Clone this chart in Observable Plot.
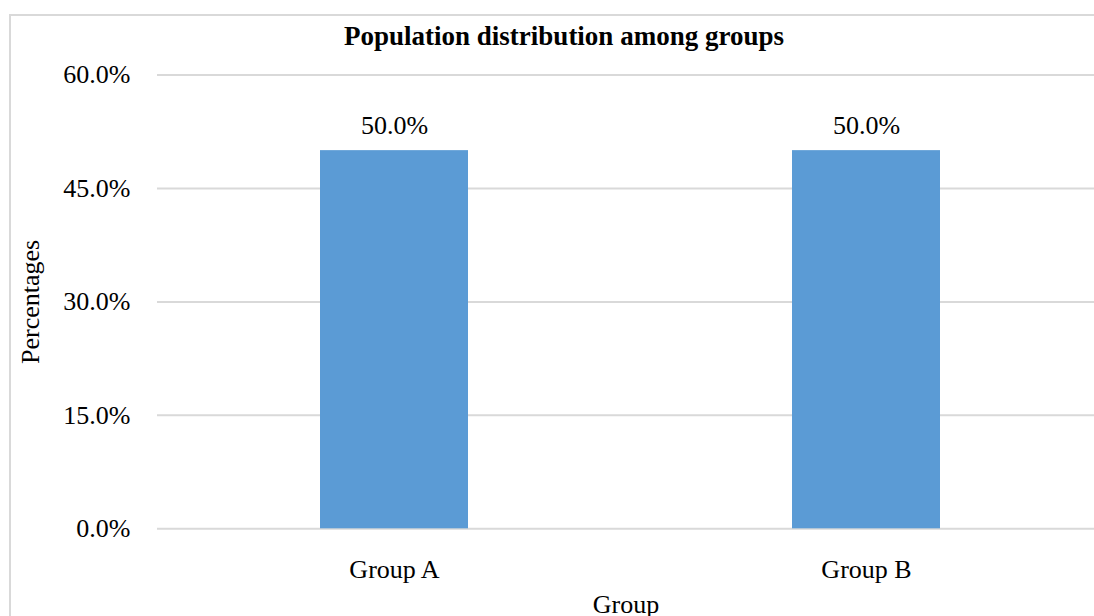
<!DOCTYPE html>
<html>
<head>
<meta charset="utf-8">
<script src="https://cdn.jsdelivr.net/npm/d3@7"></script>
<script src="https://cdn.jsdelivr.net/npm/@observablehq/plot@0.6"></script>
<style>
  html, body { margin: 0; padding: 0; background: #fff; }
  #wrap { position: relative; width: 1094px; height: 616px; overflow: hidden; background: #fff; }
  #frame { position: absolute; left: 9px; top: 14px; width: 1300px; height: 800px; border: 2px solid #d9d9d9; box-sizing: border-box; }
  #title { position: absolute; left: 0; top: 23px; width: 1128px; text-align: center; font-family: "Liberation Serif", "Times New Roman", serif; font-weight: bold; font-size: 27px; line-height: 1; color: #000; z-index: 2; }
  #chart { position: absolute; left: 0; top: 0; z-index: 1; }
</style>
</head>
<body>
<div id="wrap">
  <div id="frame"></div>
  <div id="chart"></div>
  <div id="title">Population distribution among groups</div>
</div>
<script>
const groups = ["Group A", "Group B"];
const values = [50.0, 50.0];
const yTicks = [0, 15, 30, 45, 60];
const yLabel = "Percentages";
const xLabel = "Group";

const data = groups.map((g, i) => ({group: g, value: values[i]}));
const fmt = d => d.toFixed(1) + "%";

const chart = Plot.plot({
  width: 1094,
  height: 616,
  marginTop: 74.5,
  marginBottom: 87.7,
  marginLeft: 157,
  marginRight: 0,
  style: {fontFamily: "'Liberation Serif', 'Times New Roman', serif", fontSize: "26px", color: "#000", background: "transparent"},
  x: {domain: groups, range: [157, 1102], padding: 0, label: null},
  y: {domain: [0, 60], label: null},
  marks: [
    Plot.gridY(yTicks, {stroke: "#d9d9d9", strokeOpacity: 1, strokeWidth: 2}),
    Plot.barY(data, {x: "group", y: "value", fill: "#5B9BD5", insetLeft: 162, insetRight: 162}),
    Plot.text(data, {x: "group", y: "value", text: d => fmt(d.value), lineAnchor: "bottom", dy: -17, fill: "#000"}),
    Plot.axisY(yTicks, {tickSize: 0, tickPadding: 27, tickFormat: fmt, label: null}),
    Plot.axisX({tickSize: 0, tickPadding: 31, label: null}),
    Plot.text([yLabel], {text: d => d, frameAnchor: "left", textAnchor: "middle", rotate: -90, dx: -119, lineAnchor: "bottom", fill: "#000"}),
    Plot.text([xLabel], {text: d => d, frameAnchor: "bottom", dy: 84, lineAnchor: "bottom", fill: "#000"})
  ]
});
document.getElementById("chart").appendChild(chart);
</script>
</body>
</html>
